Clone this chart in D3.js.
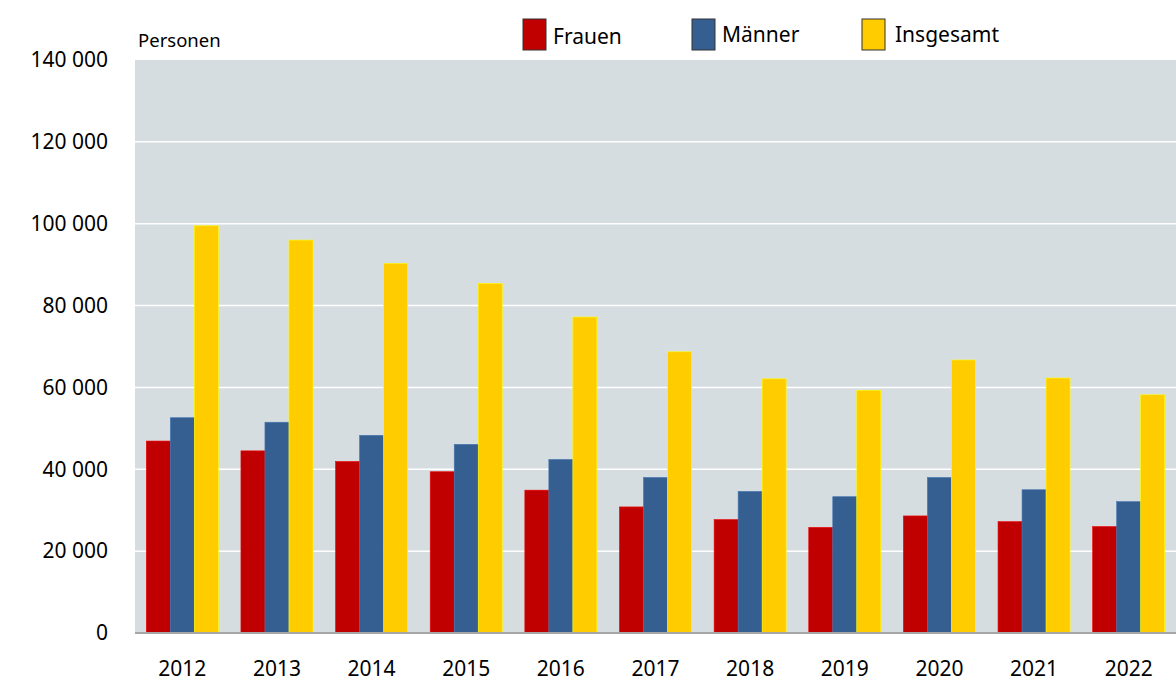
<!DOCTYPE html>
<html>
<head>
<meta charset="utf-8">
<script src="https://cdn.jsdelivr.net/npm/d3@7"></script>
<style>
  body { margin: 0; background: #fff; }
  svg { display: block; }
</style>
</head>
<body>
<div id="chart"></div>
<script>
// Data
const years = ["2012", "2013", "2014", "2015", "2016", "2017", "2018", "2019", "2020", "2021", "2022"];
const frauen = [46900, 44500, 41900, 39400, 34900, 30800, 27700, 25800, 28600, 27200, 26000];
const maenner = [52600, 51500, 48300, 46100, 42400, 38000, 34600, 33300, 38000, 35000, 32100];
const insgesamt = [99500, 96000, 90300, 85400, 77200, 68700, 62100, 59300, 66700, 62300, 58200];
const seriesNames = ["Frauen", "Männer", "Insgesamt"];
const yTicks = [0, 20000, 40000, 60000, 80000, 100000, 120000, 140000];

const seriesColors = { "Frauen": "#c00000", "Männer": "#365f91", "Insgesamt": "#ffcc00" };
const seriesValues = { "Frauen": frauen, "Männer": maenner, "Insgesamt": insgesamt };

const width = 1176, height = 685;
const margin = { top: 60, right: 0, bottom: 52, left: 135 };
const font = "'Noto Sans', sans-serif";

const svg = d3.select("#chart")
    .append("svg")
    .attr("width", width)
    .attr("height", height);

// Scales
const x = d3.scaleBand()
    .domain(years)
    .range([margin.left, width - margin.right])
    .paddingInner(0.239)
    .paddingOuter(0.1195);

const xSeries = d3.scaleBand()
    .domain(seriesNames)
    .range([0, x.bandwidth()]);

const y = d3.scaleLinear()
    .domain([0, 140000])
    .range([height - margin.bottom, margin.top]);

const fmt = d3.formatLocale({ decimal: ",", thousands: " ", grouping: [3], currency: ["", "€"] }).format(",");

// Plot background
svg.append("rect")
    .attr("x", margin.left)
    .attr("y", margin.top)
    .attr("width", width - margin.left - margin.right)
    .attr("height", y(0) - margin.top)
    .attr("fill", "#d5dde0");

// Gridlines
svg.append("g")
    .selectAll("line")
    .data(yTicks.filter(d => d > 0 && d < 140000))
    .enter()
    .append("line")
    .attr("x1", margin.left)
    .attr("x2", width - margin.right)
    .attr("y1", d => y(d))
    .attr("y2", d => y(d))
    .attr("stroke", "#ffffff")
    .attr("stroke-width", 1.5);

// Bars
const groups = svg.append("g")
    .selectAll("g")
    .data(years)
    .enter()
    .append("g")
    .attr("transform", d => `translate(${x(d)},0)`);

groups.selectAll("rect")
    .data((yr, i) => seriesNames.map(s => ({ s, v: seriesValues[s][i] })))
    .enter()
    .append("rect")
    .attr("x", d => xSeries(d.s))
    .attr("y", d => y(d.v))
    .attr("width", xSeries.bandwidth())
    .attr("height", d => y(0) - y(d.v))
    .attr("fill", d => seriesColors[d.s])
    .attr("stroke", d => d3.rgb(seriesColors[d.s]).brighter(0.6))
    .attr("stroke-width", 0.6);

// Baseline
svg.append("line")
    .attr("x1", margin.left)
    .attr("x2", width - margin.right)
    .attr("y1", y(0))
    .attr("y2", y(0))
    .attr("stroke", "#a6a6a6")
    .attr("stroke-width", 2);

// Y axis labels
const yAxis = svg.append("g")
    .attr("transform", `translate(108,0)`)
    .call(d3.axisLeft(y).tickValues(yTicks).tickFormat(fmt).tickSize(0).tickPadding(0));
yAxis.select(".domain").remove();
yAxis.selectAll("text")
    .style("font-family", font)
    .style("font-size", "21px")
    .attr("fill", "#000");

// X axis labels
const xAxis = svg.append("g")
    .attr("transform", `translate(0,${y(0)})`)
    .call(d3.axisBottom(x).tickSize(0).tickPadding(28));
xAxis.select(".domain").remove();
xAxis.selectAll("text")
    .style("font-family", font)
    .style("font-size", "21px")
    .attr("fill", "#000");

// Unit label
svg.append("text")
    .attr("x", 138)
    .attr("y", 47)
    .style("font-family", font)
    .style("font-size", "18.5px")
    .attr("fill", "#000")
    .text("Personen");

// Legend
const legendX = [523, 692, 862];
const legend = svg.append("g")
    .selectAll("g")
    .data(seriesNames)
    .enter()
    .append("g")
    .attr("transform", (d, i) => `translate(${legendX[i]},19)`);

legend.append("rect")
    .attr("width", 23)
    .attr("height", 31)
    .attr("fill", d => seriesColors[d])
    .attr("stroke", "#333")
    .attr("stroke-width", 1);

legend.append("text")
    .attr("x", (d, i) => i === 2 ? 33 : 30)
    .attr("y", (d, i) => i === 0 ? 25 : 23)
    .style("font-family", font)
    .style("font-size", "21px")
    .attr("fill", "#000")
    .text(d => d);
</script>
</body>
</html>
